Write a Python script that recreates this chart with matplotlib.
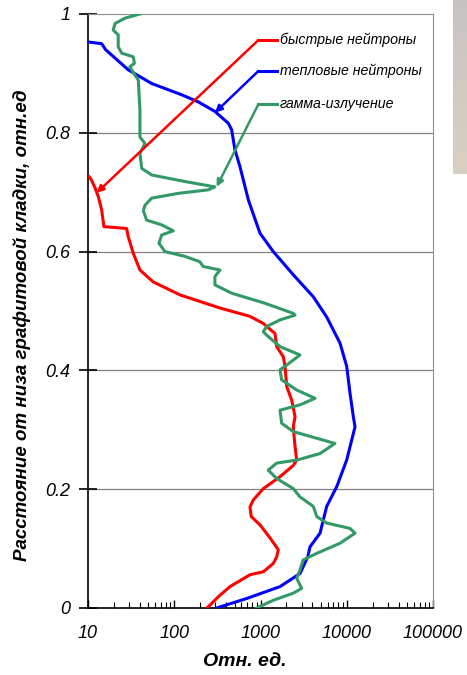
import numpy as np
import matplotlib
matplotlib.use("Agg")
import matplotlib.pyplot as plt

plt.rcParams['font.family'] = ['Liberation Sans', 'DejaVu Sans']

# height from bottom of graphite stack (rel. units) and intensity (rel. units)
fast_y = [0.0, 0.02, 0.036, 0.056, 0.061, 0.075, 0.086, 0.098, 0.118, 0.140, 0.154, 0.170,
          0.182, 0.201, 0.221, 0.240, 0.249, 0.275, 0.305, 0.322, 0.350, 0.373, 0.407, 0.423,
          0.440, 0.462, 0.479, 0.491, 0.505, 0.527, 0.549, 0.569, 0.597, 0.625, 0.639, 0.642,
          0.670, 0.692, 0.707, 0.721, 0.726]
fast_x = [240, 330, 443, 755, 1079, 1406, 1540, 1608, 1290, 986, 780, 755,
          826, 1079, 1683, 2400, 2630, 2500, 2400, 2515, 2300, 2013, 1923, 1837,
          1542, 1473, 1079, 755, 339, 117, 57, 40, 33.5, 29.3, 28, 15.3,
          14.4, 13.2, 12.1, 10.9, 10.3]

thermal_y = [0.0, 0.016, 0.036, 0.058, 0.086, 0.103, 0.126, 0.171, 0.204, 0.249, 0.305, 0.322,
             0.362, 0.407, 0.446, 0.490, 0.524, 0.561, 0.600, 0.631, 0.687, 0.743, 0.771, 0.805,
             0.816, 0.836, 0.852, 0.864, 0.883, 0.906, 0.940, 0.950, 0.953]
thermal_x = [310, 692, 1683, 2870, 3530, 3750, 4900, 5850, 7640, 9980, 12470, 11920,
             10900, 9980, 8350, 5848, 4093, 2399, 1406, 986, 723, 578, 506, 463,
             424, 296, 190, 122, 54.7, 29.3, 16, 14.4, 10]

gamma_y = [0.0, 0.013, 0.025, 0.033, 0.050, 0.064, 0.081, 0.092, 0.109, 0.126, 0.134, 0.143,
           0.154, 0.171, 0.187, 0.201, 0.218, 0.232, 0.244, 0.249, 0.260, 0.277, 0.297, 0.311,
           0.333, 0.342, 0.353, 0.367, 0.384, 0.401, 0.409, 0.426, 0.440, 0.457, 0.465, 0.474,
           0.485, 0.493, 0.496, 0.513, 0.530, 0.544, 0.558, 0.569, 0.575, 0.583, 0.592, 0.600,
           0.614, 0.628, 0.635, 0.645, 0.653, 0.669, 0.678, 0.690, 0.698, 0.704, 0.709, 0.718,
           0.729, 0.740, 0.765, 0.782, 0.793, 0.838, 0.889, 0.897, 0.911, 0.917, 0.928, 0.934,
           0.945, 0.965, 0.973, 0.984, 0.993, 1.0]
gamma_x = [903, 1406, 2400, 3000, 2630, 2870, 3130, 4490, 8350, 12470, 10900, 5850,
           4490, 4093, 2870, 2400, 1540, 1230, 1540, 2630, 4900, 7300, 2400, 1760,
           1683, 2870, 4290, 2630, 1760, 1683, 2013, 2870, 1683, 1230, 1075, 1180,
           1683, 2515, 2400, 1128, 463, 296, 296, 339, 216, 198, 133, 78,
           66.5, 71.5, 97.6, 71.5, 47.8, 43.8, 45.8, 54.7, 111, 248, 296, 133,
           54.7, 42, 40, 45.8, 40, 40, 38.3, 35, 30.5, 34.5, 33.5, 24.6,
           22.4, 22.4, 19.6, 20.6, 26.8, 40]

labels = ["быстрые нейтроны", "тепловые нейтроны", "гамма-излучение"]
colors = ["#ff0000", "#0000ff", "#339966"]
y_ticks = [0, 0.2, 0.4, 0.6, 0.8, 1]
y_ticklabels = ["0", "0.2", "0.4", "0.6", "0.8", "1"]
x_ticks = [10, 100, 1000, 10000, 100000]
x_ticklabels = ["10", "100", "1000", "10000", "100000"]

fig = plt.figure(figsize=(4.67, 6.75), dpi=100)
ax = fig.add_axes([88 / 467, 67 / 675, 345 / 467, 594 / 675])

ax.plot(fast_x, fast_y, color=colors[0], lw=2.2, zorder=3)
ax.plot(thermal_x, thermal_y, color=colors[1], lw=2.2, zorder=3)
ax.plot(gamma_x, gamma_y, color=colors[2], lw=2.2, zorder=3)

ax.set_xscale("log")
ax.set_xlim(10, 100000)
ax.set_ylim(0, 1)

# grid + frame
for yy in [0.2, 0.4, 0.6, 0.8]:
    ax.axhline(yy, color="#808080", lw=0.9, zorder=1)
ax.spines["top"].set_color("#909090")
ax.spines["right"].set_color("#909090")
ax.spines["left"].set_linewidth(1.2)
ax.spines["bottom"].set_linewidth(1.2)

ax.set_yticks(y_ticks)
ax.set_yticklabels(y_ticklabels, fontsize=13, style="italic")
ax.set_xticks(x_ticks)
ax.set_xticklabels(x_ticklabels, fontsize=13, style="italic")
ax.tick_params(axis="y", direction="inout", length=13, width=1.2, pad=6)
ax.tick_params(axis="x", which="major", direction="in", length=6, width=1.0, pad=12)
ax.tick_params(axis="x", which="minor", direction="in", length=4, width=0.8)

ax.set_xlabel("Отн. ед.", fontsize=14, style="italic", fontweight="bold")
ax.xaxis.set_label_coords(0.455, -0.075)
ax.set_ylabel("Расстояние от низа графитовой кладки, отн.ед", fontsize=13.5,
              style="italic", fontweight="bold")
ax.yaxis.set_label_coords(-0.165, 0.476)

# callout labels with arrows
leg_y = [0.956, 0.904, 0.848]
tips = [(12.6, 0.699), (297, 0.834), (310, 0.709)]
for i in range(3):
    ax.plot([944, 1542], [leg_y[i], leg_y[i]], color=colors[i], lw=2.2, zorder=4)
    ax.annotate("", xy=tips[i], xytext=(944, leg_y[i]),
                arrowprops=dict(arrowstyle="-|>", color=colors[i], lw=1.8,
                                mutation_scale=10, shrinkA=0, shrinkB=0), zorder=4)
    ax.text(1683, leg_y[i], labels[i], fontsize=10.2, style="italic",
            va="center", ha="left", zorder=5)

# grey panel at right edge
gax = fig.add_axes([453 / 467, 501 / 675, 14 / 467, 174 / 675])
grad = np.linspace(0, 1, 100).reshape(-1, 1)
top = np.array([0.78, 0.765, 0.76])
bot = np.array([0.85, 0.82, 0.765])
img = top + (bot - top) * grad[:, :, None]
gax.imshow(img, aspect="auto")
gax.axis("off")

fig.savefig("out.png", dpi=100)
